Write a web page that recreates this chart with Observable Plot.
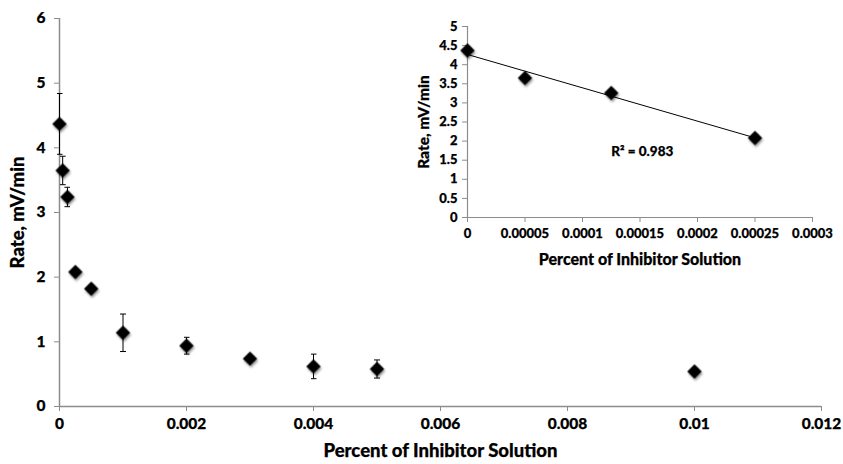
<!DOCTYPE html>
<html><head><meta charset="utf-8">
<script src="https://cdn.jsdelivr.net/npm/d3@7"></script>
<script src="https://cdn.jsdelivr.net/npm/@observablehq/plot@0.6"></script>
<style>
body{margin:0;background:#fff;}
#wrap{position:relative;width:843px;height:464px;}
#inset{position:absolute;left:400px;top:0;}
g[aria-label="dot"]{filter:drop-shadow(1px 2px 1.2px rgba(0,0,0,0.4));}
#main g[aria-label="x-axis label"], #main g[aria-label="y-axis label"]{font-size:18.5px;}
#inset g[aria-label="x-axis label"]{font-size:16px;}
#inset g[aria-label="y-axis label"]{font-size:15.5px;}
text{stroke:#000;stroke-width:0.25px;}
</style></head><body><div id="wrap"><div id="main"></div><div id="inset"></div></div>
<script>
const concentration = [0, 0.00005, 0.000125, 0.00025, 0.0005, 0.001, 0.002, 0.003, 0.004, 0.005, 0.01];
const rate = [4.37, 3.65, 3.24, 2.08, 1.82, 1.14, 0.94, 0.74, 0.62, 0.58, 0.54];
const rateError = [0.47, 0.22, 0.15, 0, 0, 0.29, 0.13, 0, 0.19, 0.14, 0];
const mainXTicks = [0, 0.002, 0.004, 0.006, 0.008, 0.01, 0.012];
const mainYTicks = [0, 1, 2, 3, 4, 5, 6];
const insetConcentration = [0, 0.00005, 0.000125, 0.00025];
const insetRate = [4.37, 3.65, 3.26, 2.08];
const insetXTicks = [0, 0.00005, 0.0001, 0.00015, 0.0002, 0.00025, 0.0003];
const insetYTicks = [0, 0.5, 1, 1.5, 2, 2.5, 3, 3.5, 4, 4.5, 5];
const r2Label = ["R² = 0.983"];
const r2Position = {x: [0.000152], y: [1.73]};
const xTitle = "Percent of Inhibitor Solution";
const yTitle = "Rate, mV/min";

const mainData = concentration.map((c, i) => ({c, r: rate[i], e: rateError[i]}));
const errData = mainData.filter(d => d.e > 0);
const insetData = insetConcentration.map((c, i) => ({c, r: insetRate[i]}));
const fmt = d => String(d);
const font = "Lato, 'Open Sans', sans-serif";
const axisGray = "#8c8c8c";

const main = Plot.plot({
  width: 843, height: 464,
  marginLeft: 59, marginRight: 22, marginTop: 18, marginBottom: 58,
  style: {fontFamily: font, fontWeight: "900", fontSize: "15.5px", color: "#000", background: "#fff"},
  x: {domain: [0, 0.012]},
  y: {domain: [0, 6]},
  marks: [
    Plot.ruleY([0], {stroke: axisGray, strokeWidth: 1.5}),
    Plot.ruleX([0], {stroke: axisGray, strokeWidth: 1.5}),
    Plot.axisX({ticks: mainXTicks, tickFormat: fmt, tickSize: 5, stroke: axisGray, tickPadding: 6,
      label: xTitle, labelAnchor: "center", labelOffset: 50, labelArrow: "none"}),
    Plot.axisY({ticks: mainYTicks, tickFormat: fmt, tickSize: 5, stroke: axisGray, tickPadding: 9,
      label: yTitle, labelAnchor: "center", labelOffset: 49, labelArrow: "none"}),
    Plot.link(errData, {x1: "c", x2: "c", y1: d => d.r - d.e, y2: d => d.r + d.e, stroke: "#000", strokeWidth: 1, marker: "tick"}),
    Plot.dot(mainData, {x: "c", y: "r", symbol: "diamond2", r: 6.5, fill: "#000", stroke: "none"})
  ]
});
document.getElementById("main").append(main);

const inset = Plot.plot({
  width: 443, height: 280,
  marginLeft: 67, marginRight: 31, marginTop: 26, marginBottom: 63,
  style: {fontFamily: font, fontWeight: "900", fontSize: "13px", color: "#000", background: "transparent"},
  x: {domain: [0, 0.0003]},
  y: {domain: [0, 5]},
  marks: [
    Plot.ruleY([0], {stroke: axisGray, strokeWidth: 1.2}),
    Plot.ruleX([0], {stroke: axisGray, strokeWidth: 1.2}),
    Plot.axisX({ticks: insetXTicks, tickFormat: fmt, tickSize: 5, stroke: axisGray, tickPadding: 6,
      label: xTitle, labelAnchor: "center", labelOffset: 47, labelArrow: "none"}),
    Plot.axisY({ticks: insetYTicks, tickFormat: fmt, tickSize: 5, stroke: axisGray, tickPadding: 5,
      label: yTitle, labelAnchor: "center", labelOffset: 50, labelArrow: "none"}),
    Plot.linearRegressionY(insetData, {x: "c", y: "r", stroke: "#000", strokeWidth: 1, ci: 0}),
    Plot.dot(insetData, {x: "c", y: "r", symbol: "diamond2", r: 6.5, fill: "#000", stroke: "none"}),
    Plot.text(r2Label, {x: r2Position.x, y: r2Position.y, text: d => d, fontSize: 13.5})
  ]
});
document.getElementById("inset").append(inset);
</script></body></html>
